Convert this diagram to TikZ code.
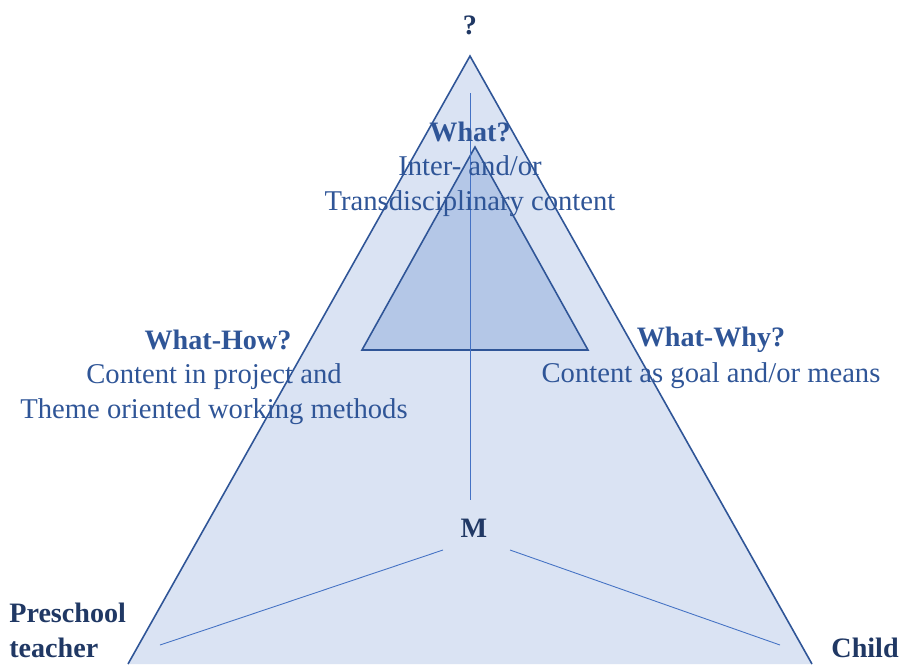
\documentclass[tikz,border=0pt]{standalone}
\usepackage{fontspec}
\setmainfont{Liberation Serif}
\usetikzlibrary{positioning}
\definecolor{paleblue}{HTML}{DAE3F3}
\definecolor{midblue}{HTML}{B4C7E7}
\definecolor{edgeblue}{HTML}{2F5597}
\definecolor{lineblue}{HTML}{4472C4}
\definecolor{darkblue}{HTML}{203864}
\tikzset{
    tri/.style={draw=edgeblue,line width=0.9pt,line join=miter},
    axis/.style={draw=lineblue,line width=0.5pt},
    head/.style={font=\bfseries\fontsize{16}{20}\selectfont,text=edgeblue,inner sep=0pt},
    body/.style={font=\fontsize{16.3}{20}\selectfont,text=edgeblue,align=center,inner sep=0pt},
    corner/.style={font=\bfseries\fontsize{16}{20}\selectfont,text=darkblue,align=left,inner sep=0pt}
}

\begin{document}
\begin{tikzpicture}[x=0.02cm,y=-0.02cm]
  \useasboundingbox (0,0) rectangle (903,664);

  % outer and inner triangle
  \coordinate (top) at (470,56);
  \coordinate (lb) at (128,664);
  \coordinate (rb) at (812,664);
  \fill[paleblue] (lb) -- (top) -- (rb) -- cycle;
  \draw[tri] (lb) -- (top) -- (rb);
  \coordinate (itop) at (475,147);
  \coordinate (ibl) at (362,350);
  \coordinate (ibr) at (588,350);
  \draw[tri,fill=midblue] (itop) -- (ibl) -- (ibr) -- cycle;

  % axes
  \coordinate (vtop) at (470,93);
  \coordinate (vbot) at (470,500);
  \coordinate (lin) at (443,550);
  \coordinate (lout) at (160,645);
  \coordinate (rin) at (510,550);
  \coordinate (rout) at (780,645);
  \draw[axis] (vtop) -- (vbot);
  \draw[axis] (lin) -- (lout);
  \draw[axis] (rin) -- (rout);

  % labels
  \node[head,text=darkblue] (q) at (470,25) {?};
  \node[head] (what) at (470,132) {What?};
  \node[body] (whatc) at (470,186) {Inter- and/or\\Transdisciplinary content};
  \node[head] (how) at (218,340) {What-How?};
  \node[body] (howc) at (214,394) {Content in project and\\Theme oriented working methods};
  \node[head] (why) at (711,340) {What-Why?};
  \node[body] (whyc) at (711,376) {Content as goal and/or means};
  \node[head,text=darkblue] (m) at (474,528) {M};
  \node[corner,anchor=west] (teacher) at (9,630) {Preschool\\teacher};
  \node[corner,anchor=east] (child) at (899,648) {Child};
\end{tikzpicture}
\end{document}
